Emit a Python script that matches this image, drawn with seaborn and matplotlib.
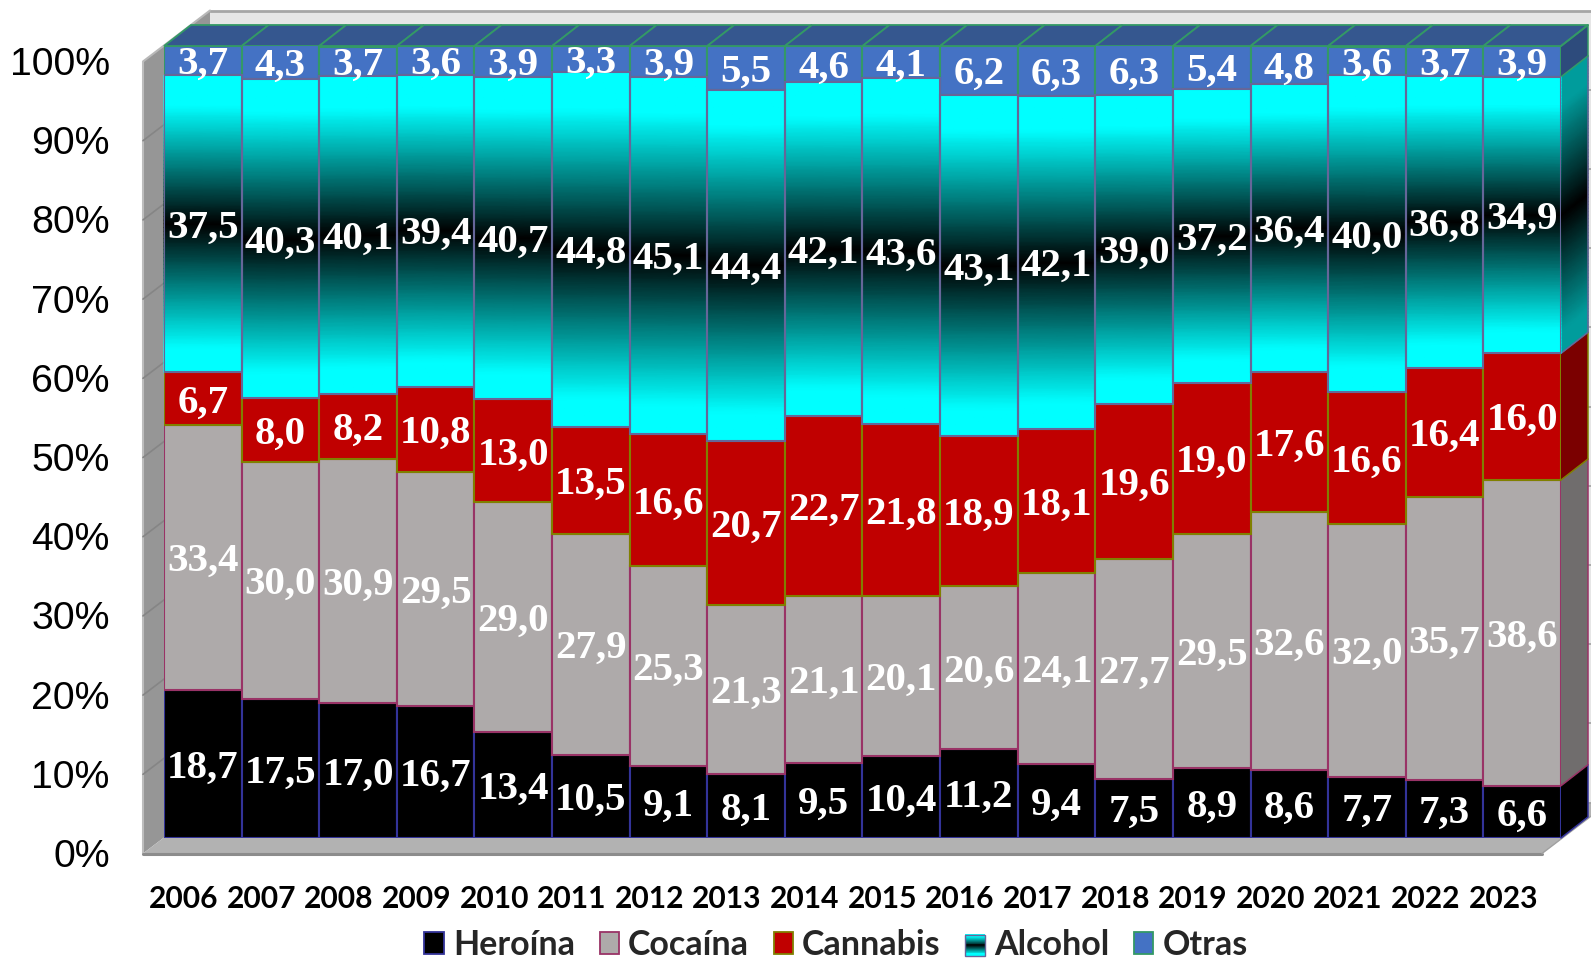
import numpy as np
import pandas as pd
import matplotlib
matplotlib.use("Agg")
import matplotlib.pyplot as plt
import seaborn as sns
from matplotlib.colors import LinearSegmentedColormap
from matplotlib.legend_handler import HandlerBase
from matplotlib.patches import Patch, Polygon, Rectangle
from matplotlib.transforms import ScaledTranslation

years = list(range(2006, 2024))
heroina = [18.7, 17.5, 17.0, 16.7, 13.4, 10.5, 9.1, 8.1, 9.5, 10.4, 11.2, 9.4, 7.5, 8.9, 8.6, 7.7, 7.3, 6.6]
cocaina = [33.4, 30.0, 30.9, 29.5, 29.0, 27.9, 25.3, 21.3, 21.1, 20.1, 20.6, 24.1, 27.7, 29.5, 32.6, 32.0, 35.7, 38.6]
cannabis = [6.7, 8.0, 8.2, 10.8, 13.0, 13.5, 16.6, 20.7, 22.7, 21.8, 18.9, 18.1, 19.6, 19.0, 17.6, 16.6, 16.4, 16.0]
alcohol = [37.5, 40.3, 40.1, 39.4, 40.7, 44.8, 45.1, 44.4, 42.1, 43.6, 43.1, 42.1, 39.0, 37.2, 36.4, 40.0, 36.8, 34.9]
otras = [3.7, 4.3, 3.7, 3.6, 3.9, 3.3, 3.9, 5.5, 4.6, 4.1, 6.2, 6.3, 6.3, 5.4, 4.8, 3.6, 3.7, 3.9]

series_names = ["Heroína", "Cocaína", "Cannabis", "Alcohol", "Otras"]
face_colors = ["#000000", "#AEAAAA", "#C00000", "#00FFFF", "#4472C4"]
side_colors = ["#000000", "#706D6D", "#7B0000", "#009999", "#2D4B7C"]
edge_colors = ["#333399", "#993366", "#808000", "#666699", "#339966"]

FIG_W, FIG_H = 1591, 961
# front plane of the bars, in pixels
LEFT, RIGHT, BOTTOM, TOP = 164, 1561, 838, 46
PX_X = len(years) / (RIGHT - LEFT)
PX_Y = 100 / (BOTTOM - TOP)

sns.set_style("white")
plt.rcParams["font.family"] = ["Liberation Sans", "DejaVu Sans"]

df = pd.DataFrame({"pos": range(len(years)), "Heroína": heroina, "Cocaína": cocaina,
                   "Cannabis": cannabis, "Alcohol": alcohol, "Otras": otras})

fig = plt.figure(figsize=(FIG_W / 100, FIG_H / 100), dpi=100)
ax = fig.add_axes([LEFT / FIG_W, 1 - BOTTOM / FIG_H, (RIGHT - LEFT) / FIG_W, (BOTTOM - TOP) / FIG_H])

cyan_black = LinearSegmentedColormap.from_list(
    "cb", [(0, "#00FFFF"), (0.1, "#00FFFF"), (0.5, "#000000"), (0.92, "#00FFFF"), (1, "#00FFFF")]
)
side_black = LinearSegmentedColormap.from_list(
    "sb", [(0, "#009C9C"), (0.1, "#009C9C"), (0.5, "#000000"), (0.92, "#009C9C"), (1, "#009C9C")]
)


def gradient(x0, x1, y0, y1, rise, cmap, z):
    # vertical gradient on a quad whose right side is raised by rise
    t = np.linspace(0, 1, 81)
    ys = y0 + (y1 - y0) * t
    X = np.column_stack([np.full_like(t, x0), np.full_like(t, x1)])
    Y = np.column_stack([ys, ys + rise])
    C = np.column_stack([t, t])
    ax.pcolormesh(X, Y, C, cmap=cmap, vmin=0, vmax=1, shading="gouraud", zorder=z, clip_on=False)


def poly(points, face, edge=None, lw=0.0, z=1.0):
    ax.add_patch(Polygon(points, closed=True, facecolor=face, edgecolor=edge or face,
                         linewidth=lw, zorder=z, clip_on=False, joinstyle="miter"))


# room: left wall, back wall and floor
x_a, y_a = -0.5 - 21 * PX_X, -15.5 * PX_Y
x_b, y_b = -0.5 + 46 * PX_X, 35.5 * PX_Y
x_end = x_a + (1542 - 143) * PX_X
x_far = x_end + 67 * PX_X

poly([(x_b, y_b), (x_far, y_b), (x_far, 100 + y_b), (x_b, 100 + y_b)], "#E6E6E6", z=0.1)
poly([(x_a, y_a), (x_b, y_b), (x_b, 100 + y_b), (x_a, 100 + y_a)], "#969696", z=0.2)
poly([(x_a, y_a), (x_end, y_a), (x_far, y_b), (x_b, y_b)], "#B2B2B2", z=0.2)
ax.plot([x_b, x_far], [100 + y_b] * 2, color="#A6A6A6", lw=2, zorder=0.3, clip_on=False)
ax.plot([x_a, x_b], [100 + y_a, 100 + y_b], color="#B8B8B8", lw=1.5, zorder=0.3, clip_on=False)
ax.plot([x_a, x_a], [y_a, 100 + y_a], color="#BDBDBD", lw=1.5, zorder=0.3, clip_on=False)
ax.plot([x_a, x_end], [y_a, y_a], color="#8C8C8C", lw=2.2, zorder=0.3, clip_on=False)
ax.plot([x_end, x_far], [y_a, y_b], color="#A0A0A0", lw=1, zorder=0.3, clip_on=False)
for g in range(10, 100, 10):
    ax.plot([x_a, x_b], [g + y_a, g + y_b], color="#858585", lw=1.2, zorder=0.4, clip_on=False)
    ax.plot([x_b, x_far], [g + y_b, g + y_b], color="#A0A0A0", lw=1.2, zorder=0.4, clip_on=False)
ax.plot([x_b, x_far], [y_b, y_b], color="#A0A0A0", lw=1.2, zorder=0.4, clip_on=False)

# stacked bars
stack = np.zeros(len(years))
bottoms = {}
for name, color, edge in zip(series_names, face_colors, edge_colors):
    bottoms[name] = stack.copy()
    sns.barplot(data=df, x="pos", y=name, bottom=stack, native_scale=True, color=color, saturation=1,
                width=1, edgecolor=edge, linewidth=1.5, ax=ax, zorder=3)
    stack = stack + np.array(df[name])

# alcohol gradient on top of the plain bars
alc = ax.containers[series_names.index("Alcohol")]
for i, patch in enumerate(alc):
    patch.set_facecolor("none")
    patch.set_zorder(3.6)
    y0 = bottoms["Alcohol"][i]
    gradient(i - 0.5, i + 0.5, y0, y0 + alcohol[i], 0, cyan_black.reversed(), 3.5)

# top faces and right side of the last bar
DX, DY = 27 * PX_X, 21 * PX_Y
for i in range(len(years)):
    poly([(i - 0.5, 100), (i + 0.5, 100), (i + 0.5 + DX, 100 + DY), (i - 0.5 + DX, 100 + DY)],
         "#35578F", "#339966", 1.3, 2.5)

last = len(years) - 1
xr = last + 0.5
for name, side, edge in zip(series_names, side_colors, edge_colors):
    y0 = bottoms[name][last]
    y1 = y0 + df[name][last]
    if name == "Alcohol":
        gradient(xr, xr + DX, y0, y1, DY, side_black.reversed(), 2.4)
    else:
        poly([(xr, y0), (xr + DX, y0 + DY), (xr + DX, y1 + DY), (xr, y1)], side, z=2.4)
    ax.plot([xr, xr + DX, xr + DX], [y0, y0 + DY, y1 + DY], color=edge, lw=1.1, zorder=2.45, clip_on=False)
ax.plot([xr, xr + DX], [100, 100 + DY], color="#339966", lw=1.3, zorder=2.5, clip_on=False)

# value labels, decimal comma as in the original
for name, container in zip(series_names, ax.containers):
    texts = [f"{v:.1f}".replace(".", ",") for v in df[name]]
    ax.bar_label(container, labels=texts, label_type="center", padding=-3, color="white", fontsize=29.5,
                 fontweight="bold", family="Liberation Serif", zorder=5)

ax.set_xlim(-0.5, len(years) - 0.5)
ax.set_ylim(0, 100)
ax.set_xlabel("")
ax.set_ylabel("")
ax.set_yticks(range(0, 101, 10))
ax.set_yticklabels([f"{t}%" for t in range(0, 101, 10)], fontsize=28.3, color="black")
ax.set_xticks(range(len(years)))
ax.set_xticklabels(years, fontsize=21.6, fontweight="bold", family="Lato", color="black")
ax.tick_params(axis="y", length=0, pad=39)
ax.tick_params(axis="x", length=0, pad=34)
sns.despine(ax=ax, left=True, bottom=True)
ax.patch.set_alpha(0)

y_shift = ScaledTranslation(0, -15 / 100, fig.dpi_scale_trans)
x_shift = ScaledTranslation(-19 / 100, 0, fig.dpi_scale_trans)
for lab in ax.get_yticklabels():
    lab.set_transform(lab.get_transform() + y_shift)
for lab in ax.get_xticklabels():
    lab.set_transform(lab.get_transform() + x_shift)


class GradientSwatch(HandlerBase):
    def create_artists(self, legend, orig, xd, yd, w, h, fontsize, trans):
        parts = []
        n = 24
        for k in range(n):
            parts.append(Rectangle((xd, yd + h * k / n), w, h / n + 0.3, transform=trans, lw=0,
                                   facecolor=cyan_black(k / (n - 1))))
        parts.append(Rectangle((xd, yd), w, h, transform=trans, facecolor="none",
                               edgecolor="#666699", lw=1))
        return parts


handles = [Patch(facecolor=c, edgecolor=e, linewidth=1.3) for c, e in zip(face_colors, edge_colors)]
fig.legend(
    handles, series_names, loc="center", ncol=5, frameon=False,
    bbox_to_anchor=(836 / FIG_W, 1 - 945 / FIG_H),
    prop={"family": "Lato", "weight": "bold", "size": 24.5},
    handlelength=0.57, handleheight=0.6, handletextpad=0.27, columnspacing=0.72,
    handler_map={handles[3]: GradientSwatch()},
)

fig.savefig("out.png", dpi=100)
plt.close(fig)
